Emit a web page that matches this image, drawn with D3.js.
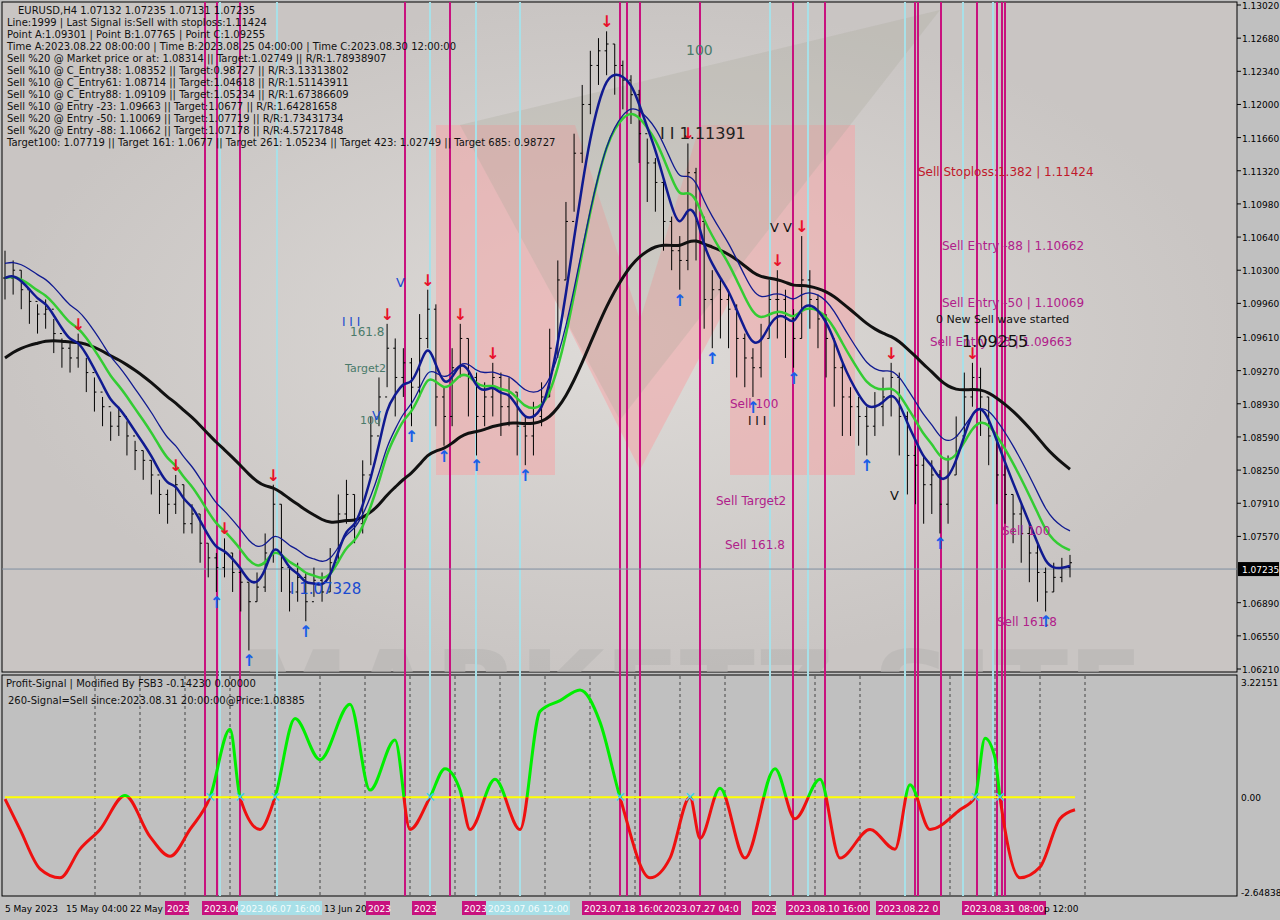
<!DOCTYPE html><html><head><meta charset="utf-8"><script src="https://cdn.jsdelivr.net/npm/d3@7"></script>
<style>body{margin:0;background:#c0c0c0}svg{display:block;font-family:Tahoma,"DejaVu Sans",sans-serif}</style></head><body>
<svg id="c" width="1280" height="920"></svg>
<script>
// ---- data ----
const closes=[1.1022,1.1030,1.1010,1.0998,1.0985,1.0990,1.0965,1.0950,1.0940,1.0955,1.0925,1.0905,1.0890,1.0870,1.0880,1.0860,1.0845,1.0835,1.0820,1.0800,1.0790,1.0810,1.0770,1.0780,1.0750,1.0735,1.0725,1.0740,1.0720,1.0710,1.0690,1.0705,1.0740,1.0790,1.0725,1.0700,1.0715,1.0690,1.0712,1.0700,1.0730,1.0780,1.0800,1.0770,1.0820,1.0860,1.0900,1.0950,1.0920,1.0935,1.0910,1.0960,1.0990,1.0900,1.0880,1.0930,1.0960,1.0920,1.0880,1.0900,1.0920,1.0890,1.0905,1.0870,1.0860,1.0880,1.0900,1.0950,1.1020,1.1080,1.1150,1.1200,1.1240,1.1255,1.1262,1.1240,1.1225,1.1210,1.1170,1.1140,1.1120,1.1080,1.1050,1.1040,1.1130,1.1080,1.1000,1.1010,1.1000,1.0990,1.0960,1.0940,1.0930,1.0960,1.1000,1.1000,1.0980,1.0960,1.1020,1.1000,1.0980,1.0960,1.0930,1.0900,1.0890,1.0880,1.0870,1.0890,1.0900,1.0920,1.0880,1.0840,1.0830,1.0810,1.0820,1.0790,1.0820,1.0860,1.0900,1.0920,1.0900,1.0860,1.0820,1.0800,1.0780,1.0760,1.0740,1.0720,1.0700,1.0715,1.0725,1.0730];
const highs =[1.1050,1.1040,1.1030,1.1010,1.0995,1.1000,1.0980,1.0960,1.0955,1.0965,1.0940,1.0920,1.0900,1.0885,1.0890,1.0875,1.0855,1.0845,1.0835,1.0815,1.0805,1.0820,1.0810,1.0790,1.0780,1.0750,1.0740,1.0755,1.0740,1.0725,1.0710,1.0720,1.0760,1.0810,1.0790,1.0725,1.0730,1.0720,1.0725,1.0720,1.0745,1.0800,1.0815,1.0800,1.0835,1.0880,1.0920,1.0975,1.0960,1.0950,1.0940,1.0985,1.1010,1.0995,1.0910,1.0950,1.0975,1.0960,1.0925,1.0915,1.0935,1.0925,1.0920,1.0905,1.0880,1.0895,1.0915,1.0970,1.1040,1.1100,1.1170,1.1220,1.1255,1.1268,1.1275,1.1262,1.1245,1.1230,1.1215,1.1165,1.1145,1.1125,1.1085,1.1065,1.1160,1.1135,1.1085,1.1030,1.1020,1.1010,1.0995,1.0965,1.0950,1.0975,1.1020,1.1030,1.1010,1.0990,1.1065,1.1030,1.1005,1.0985,1.0960,1.0935,1.0910,1.0900,1.0890,1.0905,1.0920,1.0935,1.0925,1.0885,1.0850,1.0840,1.0835,1.0825,1.0840,1.0880,1.0925,1.0935,1.0930,1.0900,1.0860,1.0830,1.0800,1.0790,1.0770,1.0750,1.0725,1.0730,1.0735,1.0738];
const lows  =[1.1000,1.1005,1.0990,1.0975,1.0965,1.0970,1.0945,1.0930,1.0925,1.0930,1.0905,1.0885,1.0870,1.0855,1.0860,1.0840,1.0825,1.0815,1.0800,1.0780,1.0770,1.0780,1.0760,1.0760,1.0730,1.0715,1.0700,1.0715,1.0700,1.0680,1.0640,1.0690,1.0700,1.0730,1.0700,1.0680,1.0690,1.0670,1.0695,1.0690,1.0700,1.0730,1.0770,1.0750,1.0760,1.0830,1.0870,1.0910,1.0880,1.0900,1.0870,1.0900,1.0950,1.0870,1.0850,1.0870,1.0920,1.0880,1.0840,1.0870,1.0880,1.0860,1.0870,1.0840,1.0830,1.0840,1.0870,1.0900,1.0940,1.1020,1.1090,1.1140,1.1190,1.1220,1.1230,1.1210,1.1195,1.1180,1.1140,1.1100,1.1090,1.1050,1.1030,1.1010,1.1030,1.1040,1.0970,1.0950,1.0960,1.0950,1.0920,1.0910,1.0900,1.0920,1.0960,1.0960,1.0940,1.0930,1.0960,1.0970,1.0950,1.0920,1.0890,1.0860,1.0860,1.0850,1.0840,1.0860,1.0870,1.0880,1.0840,1.0800,1.0790,1.0770,1.0780,1.0760,1.0770,1.0820,1.0860,1.0890,1.0860,1.0830,1.0790,1.0770,1.0750,1.0730,1.0710,1.0690,1.0680,1.0700,1.0710,1.0715];
const oscX=[5,20,40,60,80,100,125,150,170,190,210,230,240,260,275,295,320,350,370,395,410,430,445,460,470,495,520,540,560,580,600,620,650,670,690,700,720,745,775,795,820,840,870,895,910,930,960,975,985,995,1000,1020,1040,1060,1075];
const oscV=[-0.05,-0.9,-2.0,-2.25,-1.45,-0.9,0.05,-1.1,-1.65,-0.9,0.0,1.9,0.0,-0.9,0.0,2.2,1.05,2.6,0.2,1.6,-0.9,0.0,0.8,0.2,-0.9,0.5,-0.9,2.4,2.7,3.0,2.1,0.0,-2.25,-1.7,0.0,-1.15,0.25,-1.7,0.8,-0.6,0.5,-1.7,-0.9,-1.45,0.35,-0.9,-0.35,0.0,1.65,1.1,0.0,-2.25,-1.95,-0.6,-0.35];
const priceTicks=[1.13020,1.12680,1.12340,1.12000,1.11660,1.11320,1.10980,1.10640,1.10300,1.09960,1.09610,1.09270,1.08930,1.08590,1.08250,1.07910,1.07570,1.06890,1.06550,1.06210];
const magentaX=[205,217,240,405,450,620,627,640,700,793,825,915,918,941,977,997,1002,1005];
const cyanX=[220,277,430,476,520,770,808,905,963,993];
const timeLabels=[[3,"5 May 2023",null],[64,"15 May 04:00",null],[128,"22 May",null],[165,"2023",'m'],[202,"2023.06",'m'],[238,"2023.06.07 16:00",'c'],[322,"13 Jun 20:",null],[366,"2023",'m'],[412,"2023",'m'],[462,"2023",'m'],[486,"2023.07.06 12:00",'c'],[582,"2023.07.18 16:00",'m'],[662,"2023.07.27 04:0",'m'],[752,"2023",'m'],[786,"2023.08.10 16:00",'m'],[876,"2023.08.22 0",'m'],[962,"2023.08.31 08:00",'m'],[1042,"p 12:00",null]];
const texts=[[686,55,"100","#4a7a6a",14],[660,139,"I I 1.11391","#222",16],[918,176,"Sell Stoploss:1.382 | 1.11424","#c0182a",12],[942,250,"Sell Entry -88 | 1.10662","#b0208a",12],[942,307,"Sell Entry -50 | 1.10069","#b0208a",12],[936,323,"0 New Sell wave started","#111",11],[930,346,"Sell Entry -23 | 1.09663","#b0208a",12],[962,347,"1.09255","#111",16],[730,408,"Sell 100","#b0208a",12],[748,425,"I I I","#111",12],[716,505,"Sell Target2","#b0208a",12],[725,549,"Sell 161.8","#b0208a",12],[1002,535,"Sell 100","#b0208a",12],[997,626,"Sell 161.8","#b0208a",12],[290,594,"I 1.07328","#1a4bd0",15],[342,326,"I I I","#1a4bd0",12],[350,336,"161.8","#4a7a6a",12],[345,372,"Target2","#4a7a6a",11],[360,424,"100","#4a7a6a",11],[770,232,"V V","#111",13],[890,500,"V","#111",13],[396,287,"V","#1a4bd0",13],[372,420,"V","#1a4bd0",13]];
// ---- scales ----
const svg=d3.select("#c");
const xb=d3.scaleLinear().domain([0,closes.length-1]).range([5,1070]);
const y=d3.scaleLinear().domain([1.06210,1.13020]).range([669,5]);
const yo=d3.scaleLinear().domain([-2.64838,3.22151]).range([892,682]);
svg.append("rect").attr("width",1280).attr("height",920).attr("fill","#c0c0c0");
const defs=svg.append("defs");
const g=defs.append("radialGradient").attr("id","bg");
g.append("stop").attr("offset","0").attr("stop-color","#dedbd8");g.append("stop").attr("offset","1").attr("stop-color","#c9c5c3");
defs.append("clipPath").attr("id","mainc").append("rect").attr("x",2).attr("y",2).attr("width",1235).attr("height",670);
svg.append("rect").attr("x",2).attr("y",2).attr("width",1235).attr("height",670).attr("fill","url(#bg)").attr("stroke","#000");
svg.append("rect").attr("x",2).attr("y",675).attr("width",1235).attr("height",221).attr("fill","#c0c0c0").attr("stroke","#000");
// watermark
const wm=svg.append("g").attr("clip-path","url(#mainc)");
wm.append("path").attr("d","M436,125 L575,125 L640,320 L700,125 L855,125 L855,475 L730,475 L730,300 L640,470 L555,300 L555,475 L436,475Z").attr("fill","#f4a6a8").attr("opacity",0.55);
wm.append("path").attr("d","M460,125 L940,10 L620,420Z").attr("fill","#aaa89a").attr("opacity",0.28);
wm.append("text").attr("x",240).attr("y",730).attr("font-size",110).attr("font-weight","bold").attr("fill","#b8b6b4").attr("opacity",0.6).text("MARKETZ SITE");
// vertical lines
const vl=svg.append("g");
d3.range(95,1100,45).forEach(v=>vl.append("line").attr("x1",v).attr("x2",v).attr("y1",676).attr("y2",895).attr("stroke","#444").attr("stroke-dasharray","3,3"));
cyanX.forEach(v=>vl.append("line").attr("x1",v).attr("x2",v).attr("y1",2).attr("y2",896).attr("stroke","#a8e0e8").attr("stroke-width",2));
magentaX.forEach(v=>vl.append("line").attr("x1",v).attr("x2",v).attr("y1",2).attr("y2",896).attr("stroke","#c8127e").attr("stroke-width",2));
svg.append("line").attr("x1",2).attr("x2",1237).attr("y1",y(1.07235)).attr("y2",y(1.07235)).attr("stroke","#7f8ea0");
// OHLC bars
const bars=svg.append("g").attr("stroke","#000");
closes.forEach((c,i)=>{const o=i?closes[i-1]:c,X=xb(i);
 bars.append("line").attr("x1",X).attr("x2",X).attr("y1",y(highs[i])).attr("y2",y(lows[i]));
 bars.append("line").attr("x1",X-2).attr("x2",X).attr("y1",y(o)).attr("y2",y(o));
 bars.append("line").attr("x1",X).attr("x2",X+2).attr("y1",y(c)).attr("y2",y(c));});
// moving averages
function ema(n,seed){const k=2/(n+1);let e=[];closes.forEach((c,i)=>e.push(i?e[i-1]+k*(c-e[i-1]):(seed||c)));return e;}
const line=d3.line().x((d,i)=>xb(i)).y(d=>y(d)).curve(d3.curveBasis);
svg.append("path").attr("d",line(ema(30,1.0940))).attr("fill","none").attr("stroke","#111").attr("stroke-width",3);
svg.append("path").attr("d",line(ema(8))).attr("fill","none").attr("stroke","#33cc33").attr("stroke-width",2.5);
svg.append("path").attr("d",line(ema(9).map(v=>v+0.0015))).attr("fill","none").attr("stroke","#101a90").attr("stroke-width",1.3);
svg.append("path").attr("d",line(ema(4))).attr("fill","none").attr("stroke","#101a90").attr("stroke-width",2.5);
// arrows
closes.forEach((c,i)=>{if(i<2||i>closes.length-3)return;
 if(highs[i]>=d3.max(highs.slice(i-2,i+3)))svg.append("text").attr("x",xb(i)).attr("y",y(highs[i])-4).attr("text-anchor","middle").attr("font-size",16).attr("font-weight","bold").attr("fill","#e8102a").text("↓");
 if(lows[i]<=d3.min(lows.slice(i-2,i+3)))svg.append("text").attr("x",xb(i)).attr("y",y(lows[i])+16).attr("text-anchor","middle").attr("font-size",16).attr("font-weight","bold").attr("fill","#1a5ee8").text("↑");});
texts.forEach(t=>svg.append("text").attr("x",t[0]).attr("y",t[1]).attr("fill",t[3]).attr("font-size",t[4]).text(t[2]));
// info header
const info=["EURUSD,H4  1.07132 1.07235 1.07131 1.07235","Line:1999 | Last Signal is:Sell with stoploss:1.11424","Point A:1.09301 | Point B:1.07765 | Point C:1.09255","Time A:2023.08.22 08:00:00 | Time B:2023.08.25 04:00:00 | Time C:2023.08.30 12:00:00","Sell %20 @ Market price or at: 1.08314 || Target:1.02749 || R/R:1.78938907","Sell %10 @ C_Entry38: 1.08352 || Target:0.98727 || R/R:3.13313802","Sell %10 @ C_Entry61: 1.08714 || Target:1.04618 || R/R:1.51143911","Sell %10 @ C_Entry88: 1.09109 || Target:1.05234 || R/R:1.67386609","Sell %10 @ Entry -23: 1.09663 || Target:1.0677 || R/R:1.64281658","Sell %20 @ Entry -50: 1.10069 || Target:1.07719 || R/R:1.73431734","Sell %20 @ Entry -88: 1.10662 || Target:1.07178 || R/R:4.57217848","Target100: 1.07719 || Target 161: 1.0677 || Target 261: 1.05234 || Target 423: 1.02749 || Target 685: 0.98727"];
info.forEach((t,i)=>svg.append("text").attr("x",i?7:18).attr("y",14+i*12).attr("font-size",10).attr("fill","#111").text(t));
// price axis
const pa=svg.append("g");
priceTicks.forEach(p=>{pa.append("line").attr("x1",1237).attr("x2",1241).attr("y1",y(p)).attr("y2",y(p)).attr("stroke","#000");
 pa.append("text").attr("x",1242).attr("y",y(p)+4).attr("font-size",9).attr("fill","#000").text(p.toFixed(5));});
pa.append("rect").attr("x",1238).attr("y",y(1.07235)-7).attr("width",41).attr("height",14).attr("fill","#000");
pa.append("text").attr("x",1242).attr("y",y(1.07235)+4).attr("font-size",9).attr("fill","#fff").text("1.07235");
// oscillator
svg.append("line").attr("x1",5).attr("x2",1075).attr("y1",yo(0)).attr("y2",yo(0)).attr("stroke","#ffff00").attr("stroke-width",2);
const op=oscX.map((v,i)=>[v,oscV[i]]);
const ol=d3.line().x(d=>d[0]).y(d=>yo(d[1])).curve(d3.curveMonotoneX);
defs.append("clipPath").attr("id","up").append("rect").attr("width",1280).attr("height",yo(0));
defs.append("clipPath").attr("id","dn").append("rect").attr("y",yo(0)).attr("width",1280).attr("height",300);
svg.append("path").attr("d",ol(op)).attr("fill","none").attr("stroke","#00ee00").attr("stroke-width",3).attr("clip-path","url(#up)");
svg.append("path").attr("d",ol(op)).attr("fill","none").attr("stroke","#ee1010").attr("stroke-width",3).attr("clip-path","url(#dn)");
op.forEach((d,i)=>{if(i&&d[1]===0)svg.append("text").attr("x",d[0]).attr("y",yo(0)+5).attr("text-anchor","middle").attr("font-size",14).attr("fill","#40d0e8").text("✕");});
svg.append("text").attr("x",6).attr("y",687).attr("font-size",10).attr("fill","#111").text("Profit-Signal | Modified By FSB3 -0.14230 0.00000");
svg.append("text").attr("x",8).attr("y",704).attr("font-size",10).attr("fill","#111").text("260-Signal=Sell since:2023.08.31 20:00:00@Price:1.08385");
[[3.22151,"3.22151"],[0,"0.00"],[-2.64838,"-2.64838"]].forEach(d=>{svg.append("text").attr("x",1241).attr("y",yo(d[0])+4).attr("font-size",9).text(d[1]);});
// time axis
timeLabels.forEach(t=>{const w=t[1].length*5+4;
 if(t[2])svg.append("rect").attr("x",t[0]).attr("y",901).attr("width",w).attr("height",14).attr("fill",t[2]==='m'?"#c8127e":"#a8e0e8");
 svg.append("text").attr("x",t[0]+2).attr("y",912).attr("font-size",9).attr("fill",t[2]==='m'?"#fff":t[2]==='c'?"#f4fcfc":"#000").text(t[1]);});
</script></body></html>
